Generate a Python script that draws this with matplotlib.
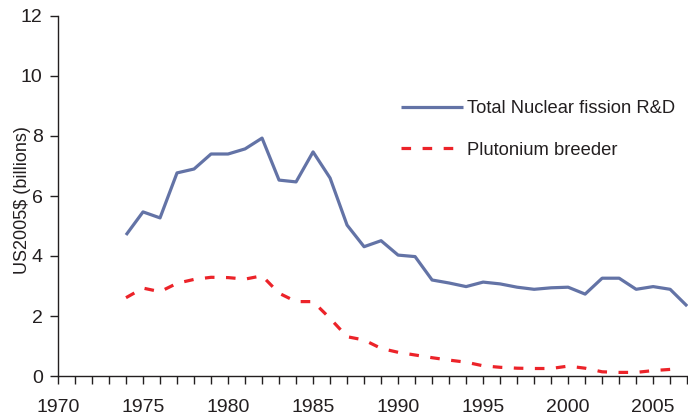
import numpy as np
import matplotlib.pyplot as plt
import matplotlib as mpl

# 数据（从图中读取，单位：十亿美元 US2005$）
years_total = list(range(1974, 2008))
total_fission = [4.70, 5.47, 5.27, 6.77, 6.90, 7.40, 7.40, 7.57, 7.93, 6.53,
                 6.47, 7.47, 6.60, 5.03, 4.31, 4.51, 4.03, 3.98, 3.20, 3.10,
                 2.98, 3.13, 3.07, 2.96, 2.89, 2.94, 2.96, 2.73, 3.26, 3.26,
                 2.89, 2.98, 2.89, 2.33]
years_breeder = list(range(1974, 2007))
pu_breeder = [2.61, 2.93, 2.81, 3.09, 3.22, 3.29, 3.28, 3.23, 3.34, 2.76,
              2.48, 2.48, 1.92, 1.31, 1.20, 0.92, 0.79, 0.70, 0.61, 0.53,
              0.46, 0.34, 0.29, 0.26, 0.25, 0.25, 0.33, 0.26, 0.14, 0.12,
              0.12, 0.18, 0.22]
labels = ["Total Nuclear fission R&D", "Plutonium breeder"]
xticks = [1970, 1975, 1980, 1985, 1990, 1995, 2000, 2005]
yticks = [0, 2, 4, 6, 8, 10, 12]

mpl.rcParams['font.family'] = ['Liberation Sans', 'DejaVu Sans']
txt = '#231f20'

fig = plt.figure(figsize=(6.88, 4.15), dpi=100)
ax = fig.add_axes([58/688, 39/415, 630/688, 360/415])

ax.plot(years_total, total_fission, color='#6373a6', lw=2.3, label=labels[0],
        solid_capstyle='butt')
ax.plot(years_breeder, pu_breeder, color='#ec2329', lw=2.3, label=labels[1],
        dashes=(3.0, 3.6))

ax.set_xlim(1970, 2007.05)
ax.set_ylim(0, 12)
ax.set_xticks(xticks)
ax.set_xticks(range(1970, 2008), minor=True)
ax.set_yticks(yticks)
for s in ['top', 'right']:
    ax.spines[s].set_visible(False)
for s in ['left', 'bottom']:
    ax.spines[s].set_color(txt)
    ax.spines[s].set_linewidth(1.0)
ax.tick_params(axis='x', which='both', length=6, width=1, color=txt,
               labelsize=14, labelcolor=txt, pad=10.5)
ax.tick_params(axis='y', length=6, width=1, color=txt,
               labelsize=14, labelcolor=txt, pad=5)
ax.set_ylabel("US2005$ (billions)", fontsize=13, color=txt, va='center')
ax.yaxis.set_label_coords(-0.057, 0.49)

ax.legend(loc='upper left', bbox_to_anchor=(401/688, 1 - 100/415),
          bbox_transform=fig.transFigure, frameon=False, fontsize=13.2,
          handlelength=3.4, handletextpad=0.22, labelspacing=1.35,
          borderpad=0, borderaxespad=0, labelcolor=txt)

fig.savefig('out.png', dpi=100)
